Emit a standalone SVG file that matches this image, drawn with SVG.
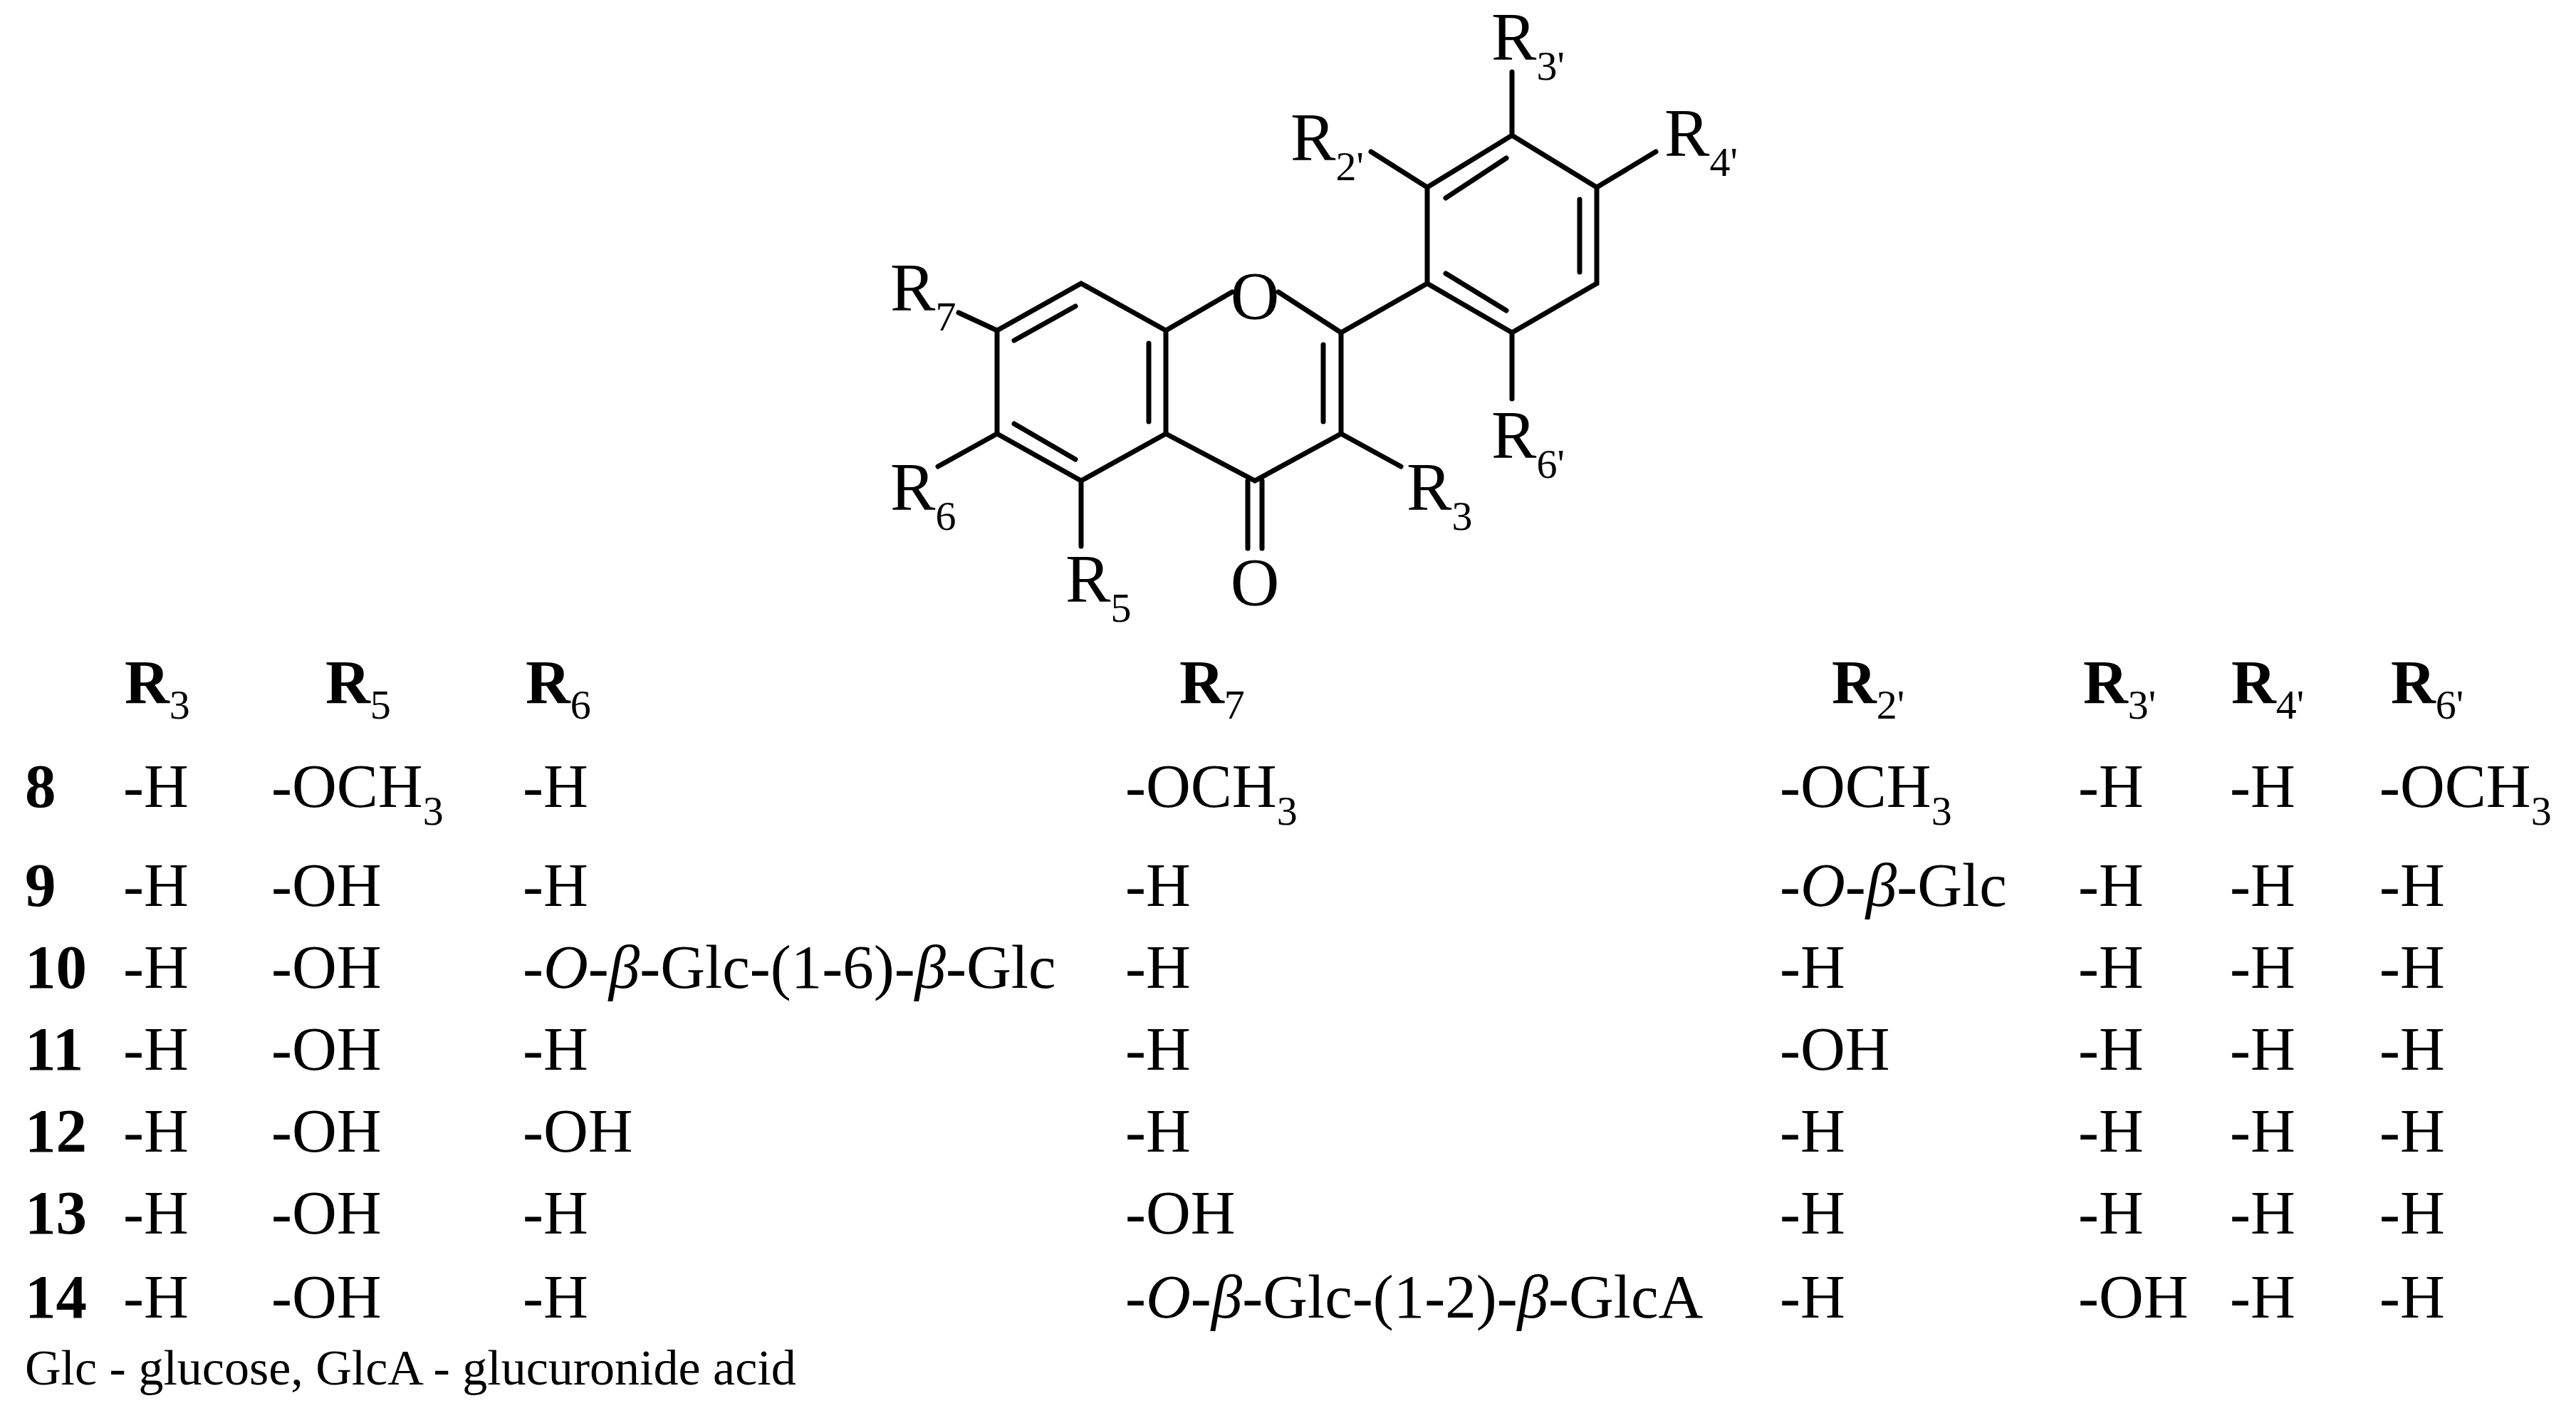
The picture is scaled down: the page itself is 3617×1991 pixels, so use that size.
<svg xmlns="http://www.w3.org/2000/svg" width="3617" height="1991" viewBox="0 0 3617 1991">
<style>
.b{stroke:#000;stroke-width:7;stroke-linecap:round;fill:none}
text{font-family:"Liberation Serif","Times New Roman",serif;fill:#000}
.l{font-size:95px}
.t{font-size:87px}
.h{font-size:87px;font-weight:bold}
.n{font-size:87px;font-weight:bold}
.f{font-size:70px}
.s{font-size:58px}
</style>
<rect width="3617" height="1991" fill="#fff"/>
<g id="bonds">
<polyline class="b" points="1400,464 1518,398 1637,464 1637,609 1518,675 1400,609 1400,464"/>
<line class="b" x1="1424" y1="478" x2="1510" y2="430"/>
<line class="b" x1="1613" y1="482" x2="1613" y2="592"/>
<line class="b" x1="1510" y1="645" x2="1424" y2="595"/>
<line class="b" x1="1637" y1="464" x2="1730" y2="410"/>
<line class="b" x1="1795" y1="410" x2="1883" y2="467"/>
<line class="b" x1="1883" y1="467" x2="1883" y2="609"/>
<line class="b" x1="1858" y1="484" x2="1858" y2="592"/>
<polyline class="b" points="1883,609 1762,675 1637,609"/>
<line class="b" x1="1752" y1="675" x2="1752" y2="770"/>
<line class="b" x1="1772" y1="675" x2="1772" y2="770"/>
<line class="b" x1="1518" y1="675" x2="1518" y2="767"/>
<line class="b" x1="1400" y1="609" x2="1317" y2="655"/>
<line class="b" x1="1400" y1="464" x2="1346" y2="439"/>
<line class="b" x1="1883" y1="609" x2="1967" y2="655"/>
<line class="b" x1="1883" y1="467" x2="2004" y2="398"/>
<polyline class="b" points="2004,398 2004,263 2123,190 2242,263 2242,398 2123,467 2004,398"/>
<line class="b" x1="2030" y1="278" x2="2115" y2="222"/>
<line class="b" x1="2218" y1="280" x2="2218" y2="382"/>
<line class="b" x1="2030" y1="384" x2="2115" y2="436"/>
<line class="b" x1="2004" y1="263" x2="1925" y2="213"/>
<line class="b" x1="2123" y1="190" x2="2123" y2="101"/>
<line class="b" x1="2242" y1="263" x2="2325" y2="213"/>
<line class="b" x1="2123" y1="467" x2="2123" y2="560"/>
</g>
<g id="atoms" class="l">
<text x="1762" y="448" text-anchor="middle">O</text>
<text x="1762" y="850" text-anchor="middle">O</text>
<text x="1496" y="845">R<tspan class="s" dy="28">5</tspan></text>
<text x="1250" y="716">R<tspan class="s" dy="28">6</tspan></text>
<text x="1250" y="436">R<tspan class="s" dy="28">7</tspan></text>
<text x="1975" y="716">R<tspan class="s" dy="28">3</tspan></text>
<text x="1812" y="225">R<tspan class="s" dy="28">2'</tspan></text>
<text x="2094" y="84">R<tspan class="s" dy="28">3'</tspan></text>
<text x="2337" y="219">R<tspan class="s" dy="28">4'</tspan></text>
<text x="2094" y="643">R<tspan class="s" dy="28">6'</tspan></text>
</g>
<g id="header" class="h">
<text x="175" y="987">R<tspan class="s" font-weight="normal" dy="22">3</tspan></text>
<text x="457" y="987">R<tspan class="s" font-weight="normal" dy="22">5</tspan></text>
<text x="738" y="987">R<tspan class="s" font-weight="normal" dy="22">6</tspan></text>
<text x="1656" y="987">R<tspan class="s" font-weight="normal" dy="22">7</tspan></text>
<text x="2572" y="987">R<tspan class="s" font-weight="normal" dy="22">2'</tspan></text>
<text x="2925" y="987">R<tspan class="s" font-weight="normal" dy="22">3'</tspan></text>
<text x="3133" y="987">R<tspan class="s" font-weight="normal" dy="22">4'</tspan></text>
<text x="3357" y="987">R<tspan class="s" font-weight="normal" dy="22">6'</tspan></text>
</g>
<g id="rows" class="t">
<text class="n" x="35" y="1133">8</text>
<text x="173" y="1133">-H</text>
<text x="381" y="1133">-OCH<tspan class="s" dy="25">3</tspan></text>
<text x="734" y="1133">-H</text>
<text x="1580" y="1133">-OCH<tspan class="s" dy="25">3</tspan></text>
<text x="2499" y="1133">-OCH<tspan class="s" dy="25">3</tspan></text>
<text x="2918" y="1133">-H</text>
<text x="3131" y="1133">-H</text>
<text x="3341" y="1133">-OCH<tspan class="s" dy="25">3</tspan></text>

<text class="n" x="35" y="1272">9</text>
<text x="173" y="1272">-H</text>
<text x="381" y="1272">-OH</text>
<text x="734" y="1272">-H</text>
<text x="1580" y="1272">-H</text>
<text x="2499" y="1272">-<tspan font-style="italic">O</tspan>-<tspan font-style="italic">β</tspan>-Glc</text>
<text x="2918" y="1272">-H</text>
<text x="3131" y="1272">-H</text>
<text x="3341" y="1272">-H</text>

<text class="n" x="35" y="1387">10</text>
<text x="173" y="1387">-H</text>
<text x="381" y="1387">-OH</text>
<text x="734" y="1387">-<tspan font-style="italic">O</tspan>-<tspan font-style="italic">β</tspan>-Glc-(1-6)-<tspan font-style="italic">β</tspan>-Glc</text>
<text x="1580" y="1387">-H</text>
<text x="2499" y="1387">-H</text>
<text x="2918" y="1387">-H</text>
<text x="3131" y="1387">-H</text>
<text x="3341" y="1387">-H</text>

<text class="n" x="35" y="1502">11</text>
<text x="173" y="1502">-H</text>
<text x="381" y="1502">-OH</text>
<text x="734" y="1502">-H</text>
<text x="1580" y="1502">-H</text>
<text x="2499" y="1502">-OH</text>
<text x="2918" y="1502">-H</text>
<text x="3131" y="1502">-H</text>
<text x="3341" y="1502">-H</text>

<text class="n" x="35" y="1617">12</text>
<text x="173" y="1617">-H</text>
<text x="381" y="1617">-OH</text>
<text x="734" y="1617">-OH</text>
<text x="1580" y="1617">-H</text>
<text x="2499" y="1617">-H</text>
<text x="2918" y="1617">-H</text>
<text x="3131" y="1617">-H</text>
<text x="3341" y="1617">-H</text>

<text class="n" x="35" y="1732">13</text>
<text x="173" y="1732">-H</text>
<text x="381" y="1732">-OH</text>
<text x="734" y="1732">-H</text>
<text x="1580" y="1732">-OH</text>
<text x="2499" y="1732">-H</text>
<text x="2918" y="1732">-H</text>
<text x="3131" y="1732">-H</text>
<text x="3341" y="1732">-H</text>

<text class="n" x="35" y="1850">14</text>
<text x="173" y="1850">-H</text>
<text x="381" y="1850">-OH</text>
<text x="734" y="1850">-H</text>
<text x="1580" y="1850">-<tspan font-style="italic">O</tspan>-<tspan font-style="italic">β</tspan>-Glc-(1-2)-<tspan font-style="italic">β</tspan>-GlcA</text>
<text x="2499" y="1850">-H</text>
<text x="2918" y="1850">-OH</text>
<text x="3131" y="1850">-H</text>
<text x="3341" y="1850">-H</text>
</g>
<g id="footnote">
<text class="f" x="35" y="1944">Glc - glucose, GlcA - glucuronide acid</text>
</g>
</svg>
